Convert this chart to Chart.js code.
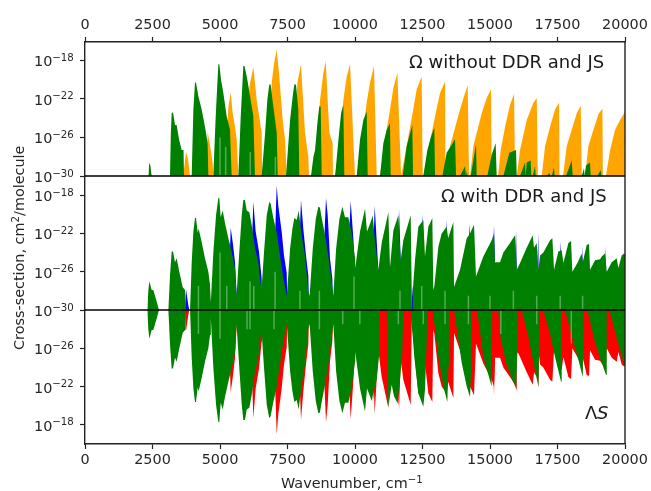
<!DOCTYPE html>
<html>
<head>
<meta charset="utf-8">
<title>Cross-section</title>
<script src="https://cdn.jsdelivr.net/npm/chart.js@4/dist/chart.umd.min.js"></script>
<style>
    html, body { margin: 0; padding: 0; background: #fff; }
    canvas { display: block; filter: blur(0.4px); }
</style>
</head>
<body>
<canvas id="spectrum" width="651" height="491"></canvas>
<script>
// All points are [wavenumber, log10(cross-section)]

// Top panel
var orangeBands = [
    [3640,-30],[3741,-27.5],[3820,-28.3],[3890,-30],
    [4506,-30],[4543,-25.4],[4630,-26.8],[4730,-28.7],[4752,-30],
    [5185,-30],[5311,-22.8],[5396,-21.3],[5470,-23.5],[5556,-24.9],[5618,-26.2],[5679,-30],
    [5980,-30],[6089,-20.7],[6235,-18.7],[6358,-22.1],[6450,-23.8],[6543,-25.5],[6560,-30],
    [6800,-30],[6850,-25],[6916,-20.3],[7003,-18.3],[7100,-16.9],[7197,-19.7],[7322,-24.2],[7408,-26.2],[7470,-30],
    [7750,-30],[7800,-24],[7867,-20.3],[8000,-18.4],[8061,-21.4],[8148,-25.5],[8271,-28],[8296,-30],
    [8398,-30],[8559,-26.6],[8707,-22.1],[8830,-19.3],[8917,-18.1],[9048,-25.5],[9172,-26.6],[9185,-30],
    [9263,-30],[9423,-26.6],[9571,-22.1],[9695,-19.65],[9818,-18.4],[9938,-26.2],[10000,-30],
    [10063,-30],[10247,-26.6],[10432,-22.4],[10556,-20.3],[10704,-18.6],[10804,-30],
    [10927,-30],[11112,-26.25],[11297,-23.1],[11420,-20.9],[11569,-19.3],[11707,-30],
    [11730,-30],[11914,-26.9],[12100,-24],[12285,-21],[12470,-19.7],[12507,-30],
    [12530,-30],[12717,-27.3],[12964,-23.8],[13150,-21.4],[13335,-20.2],[13350,-30],
    [13395,-30],[13520,-26.9],[13890,-23.1],[14076,-21.4],[14175,-20.6],[14223,-30],
    [14260,-30],[14385,-26.9],[14693,-23.5],[14879,-21.9],[15039,-21],[15062,-30],
    [15298,-30],[15397,-27.3],[15558,-24.9],[15743,-22.6],[15891,-21.5],[15930,-30],
    [15990,-30],[16113,-27.3],[16361,-24.2],[16608,-22.4],[16731,-21.9],[16770,-30],
    [16916,-30],[17040,-26.9],[17225,-24.9],[17410,-23.1],[17558,-22.4],[17575,-30],
    [17704,-30],[17843,-26.9],[18028,-25.2],[18213,-23.5],[18361,-22.7],[18400,-30],
    [18520,-30],[18645,-26.9],[18831,-25.2],[19016,-23.6],[19164,-23],[19180,-30],
    [19293,-30],[19448,-27.3],[19633,-25.2],[19819,-24.2],[19967,-23.5],[20000,-23.4]
];
var topGreenBands = [
    [2345,-30],[2382,-28.6],[2420,-28.9],[2470,-30],
    [3148,-30],[3180,-25.5],[3210,-23.5],[3260,-23.4],[3333,-24.7],[3395,-24.7],[3482,-26.2],[3580,-27.3],[3650,-27.3],[3667,-30],
    [3951,-30],[4014,-23.1],[4074,-20.3],[4111,-20.3],[4197,-21.7],[4321,-23.1],[4444,-24.9],[4543,-26.6],[4568,-30],
    [4752,-30],[4841,-23.8],[4938,-18.4],[4975,-18.4],[5037,-20],[5124,-21.4],[5247,-23.8],[5370,-25.2],[5432,-30],
    [5679,-30],[5768,-23.8],[5864,-18.6],[5910,-18.6],[6012,-20],[6111,-21.7],[6235,-23.8],[6296,-30],
    [6543,-30],[6669,-25.6],[6756,-22],[6826,-20.5],[6875,-20.5],[6975,-22.8],[7100,-25.5],[7137,-30],
    [7445,-30],[7595,-24.2],[7694,-21.7],[7752,-20.5],[7815,-20.5],[7900,-23.1],[7937,-30],
    [8370,-30],[8460,-28],[8522,-27.3],[8608,-24.5],[8678,-22.8],[8730,-22.8],[8767,-30],
    [9263,-30],[9386,-26.25],[9485,-23.5],[9568,-22.6],[9605,-30],
    [10063,-30],[10185,-26.25],[10309,-24.2],[10433,-23.3],[10470,-30],
    [10927,-30],[11050,-26.6],[11174,-25.2],[11297,-24.5],[11322,-30],
    [11767,-30],[11914,-26.9],[12038,-25.6],[12123,-24.7],[12150,-30],
    [12530,-30],[12680,-27.3],[12816,-25.9],[12938,-25],[12964,-30],
    [13235,-30],[13395,-27.6],[13705,-26.2],[13742,-30],
    [13890,-30],[14075,-29],[14110,-30],[14138,-29.5],[14170,-30],
    [14285,-30],[14482,-26.7],[14508,-30],
    [14900,-30],[15062,-27.8],[15210,-26.6],[15247,-30],
    [15494,-30],[15716,-27.6],[15964,-27.3],[15990,-30],
    [16112,-30],[16297,-28.6],[16320,-30],[16360,-28.6],[16507,-28.4],[16532,-30],
    [16581,-30],[16667,-29],[16692,-30],
    [17100,-30],[17197,-29.7],[17240,-30],[17290,-30],[17370,-29.1],[17395,-30],
    [17815,-30],[18026,-28.4],[18063,-30],
    [18396,-30],[18481,-29.2],[18505,-30],[18556,-28.9],[18704,-28.6],[18730,-30],
    [18970,-30],[19100,-29.4],[19137,-30]
];

// Middle panel, the part up to 10600 is the same in the lower panel
var greenShared = [
    [2308,-30],[2345,-28],[2382,-27],[2470,-27.9],[2530,-27.9],[2655,-29.1],[2741,-30],
    [3088,-30],[3150,-26.35],[3210,-23.9],[3260,-23.9],[3333,-25],[3395,-24.6],[3493,-26],[3617,-27.6],[3704,-27.9],[3730,-30],
    [3891,-30],[3952,-25],[4014,-21.8],[4074,-20.4],[4111,-20.4],[4173,-21.9],[4210,-21.5],[4321,-22.9],[4444,-24.6],[4568,-26],[4630,-27.4],
    [4660,-29.2],[4755,-23.9],[4854,-20.1],[4938,-18.3],[4975,-18.3],[5025,-20.3],[5100,-19.6],[5185,-20.9],[5309,-22.5],[5432,-23.9],[5556,-25.6],
    [5612,-28.5],[5706,-24.3],[5805,-20.1],[5864,-18.5],[5925,-18.5],[5988,-19.6],[6087,-19.8],[6173,-21.1],[6296,-23.5],[6420,-25],[6481,-26.7],
    [6535,-28],[6632,-23.9],[6731,-20.1],[6826,-18.7],[6875,-18.9],[6975,-20.4],[7100,-21.9],[7222,-24.3],[7346,-26.7],
    [7475,-28.5],[7596,-23.6],[7682,-21.5],[7752,-20.4],[7840,-20.6],[7914,-19.6],[8025,-22.2],[8148,-24.3],[8271,-28.1],
    [8320,-28.5],[8435,-23.6],[8547,-20.5],[8642,-19.2],[8700,-19.3],[8767,-20.4],[8889,-22.2],[9011,-24.3],[9135,-27],
    [9197,-28.5],[9300,-23.6],[9423,-20.5],[9531,-19.2],[9630,-20.3],[9753,-20.3],[9877,-21.9],[10000,-24.6],[10010,-25.6],[10186,-21.8],[10371,-19.4],[10445,-21.8],[10556,-21],[10618,-20.5]
];
var greenMidLate = [
    [10655,-20.1],[10730,-22.5],[10864,-25.8],[10988,-23],[11235,-19.8],[11297,-25.5],[11420,-21.7],[11605,-20.1],[11693,-24.8],[11790,-22.7],
    [12063,-20.1],[12100,-28],[12112,-30],[12140,-28],[12223,-24.8],[12346,-21.3],[12530,-20.6],[12593,-24.4],[12716,-21.3],[12864,-20.4],
    [12901,-27.9],[12940,-27.5],[13087,-23.4],[13210,-22],[13395,-21.3],[13450,-22.5],[13643,-20.8],[13668,-27.6],[13890,-25.8],[14138,-22.5],
    [14260,-22],[14408,-21.1],[14482,-26.5],[14753,-24.4],[15062,-22.7],[15148,-22],[15185,-25],[15372,-25],[15495,-24],[15742,-23],[15928,-22.2],
    [15990,-25.8],[16113,-25.1],[16360,-23.5],[16582,-22.2],[16631,-23.5],[16730,-23],[16792,-25.8],[16854,-24.3],[16977,-24],[17224,-22.7],[17310,-22.5],
    [17372,-25.8],[17532,-23.9],[17656,-23.75],[17718,-25.1],[17903,-23],[18002,-22.8],[18051,-26],[18237,-25.1],[18397,-24.1],[18434,-25],[18582,-23.2],
    [18668,-23.1],[18705,-25.8],[18891,-24.8],[19076,-24.7],[19138,-24.4],[19261,-24.1],[19323,-26],[19508,-25],[19693,-24.6],[19755,-25.6],[19878,-24.3],[19964,-24.1],[20000,-24.2]
];
var blueBands = [
    [3704,-30],[3741,-27.8],[3827,-29.5],[3864,-30],
    [5300,-30],[5396,-21.4],[5470,-22.9],[5556,-25],[5618,-28.4],[5630,-30],
    [6100,-30],[6235,-18.7],[6321,-21.8],[6444,-23.9],[6543,-26.7],[6555,-30],
    [6950,-30],[7100,-17],[7160,-19.1],[7284,-21.8],[7370,-24.3],[7470,-26.1],[7500,-30],
    [7850,-30],[8000,-18.5],[8086,-21.5],[8185,-24.3],[8271,-26.4],[8300,-30],
    [8750,-30],[8926,-18.3],[8989,-20.1],[9074,-24.6],[9160,-26.7],[9197,-30],
    [9650,-30],[9840,-18.6],[9938,-22.5],[10000,-25.6],[10062,-27],[10080,-30],
    [10600,-30],[10730,-19.1],[10864,-25.8],[10880,-30],
    [11520,-30],[11631,-19.5],[11693,-24.8],[11705,-30],
    [12086,-30],[12138,-27.4],[12160,-30],
    [12400,-30],[12507,-20],[12556,-23.8],[12570,-30],
    [13300,-30],[13395,-20.5],[13420,-23.4],[13430,-30],
    [14150,-30],[14235,-21],[14260,-22.4],[14270,-30],
    [15060,-30],[15148,-21.1],[15185,-25],[15195,-30],
    [15880,-30],[15965,-21.7],[15990,-25.8],[16000,-30],
    [16700,-30],[16792,-22],[16805,-30],
    [17540,-30],[17620,-22.8],[17644,-25.1],[17655,-30],
    [18350,-30],[18434,-23.2],[18450,-30],
    [19200,-30],[19298,-23.2],[19310,-30]
];

// Lower panel, after the shared part
var greenLowLate = [
    [10704,-21.7],[10804,-22.7],[10901,-25.5],[10927,-30],
    [11173,-30],[11235,-19.8],[11358,-22.2],[11445,-21],[11568,-20.3],[11667,-22.7],[11753,-25.5],[11790,-30],
    [12060,-30],[12197,-25.1],[12346,-21.3],[12530,-19.9],[12593,-21.7],[12655,-26.6],[12680,-30],
    [12880,-30],[13087,-25.1],[13272,-22],[13420,-20.4],[13460,-24.1],[13480,-30],
    [13668,-30],[13952,-24.5],[14138,-22],[14260,-20.9],[14322,-25],[14335,-30],
    [14520,-30],[14753,-25.1],[15062,-22],[15085,-30],
    [15300,-30],[15400,-26.9],[15618,-24.3],[15803,-22.9],[15964,-21.8],[16013,-25.5],[16030,-30],
    [16174,-30],[16421,-27.2],[16606,-24.5],[16792,-22],[16853,-30],
    [16977,-30],[17224,-27.5],[17409,-25.1],[17631,-22.5],[17655,-30],
    [17780,-30],[18026,-27.3],[18273,-24.8],[18434,-23],[18483,-30],
    [18606,-30],[18890,-26.6],[19138,-24.5],[19298,-23.2],[19323,-30],
    [19422,-30],[19700,-27],[19964,-24.3],[20000,-24.3]
];

// Pale gaps near the baseline: [wavenumber, log10 low, log10 high]
var topStreaks = [[5000,-30,-26],[5210,-30,-27],[6120,-30,-27.5],[7050,-30,-28]];
var midStreaks = [
    [4200,-30,-27.5],[5000,-30,-24],[5250,-30,-27.5],[6113,-30,-27],[6250,-30,-27.5],[7040,-30,-26],[7960,-30,-28],
    [8680,-30,-28],[9963,-30,-26.5],[11667,-30,-28],[12470,-30,-27.5],[13335,-30,-28],[14200,-30,-28.5],[15000,-30,-28.5],
    [15866,-30,-28],[16730,-30,-28.5],[17600,-30,-28.5],[18430,-30,-28.5]
];
var lowStreaks = [
    [4200,-30,-27.5],[5000,-30,-27],[6000,-30,-28],[6111,-30,-28],[7000,-30,-28],[8680,-30,-28],[9545,-30,-28.5],
    [10180,-30,-28.5],[11605,-30,-28.5],[12530,-30,-28.5],[13335,-30,-28.5],[14200,-30,-28.5],[15400,-30,-27.5],[16730,-30,-28.5],[18010,-30,-26.5]
];

// Tick values
var xTicks = [0, 2500, 5000, 7500, 10000, 12500, 15000, 17500, 20000];
var panelTickExp = [-18, -22, -26, -30];
var lowTickExp = [-18, -22, -26];

var fontName = "'DejaVu Sans'";
var inkColor = "#262626";
var spineColor = "#222222";

function toPoints(list) {
    return list.map(function (p) {
        return { x: p[0], y: Math.pow(10, p[1]) };
    });
}

function band(list, color, yAxis) {
    return {
        data: toPoints(list),
        xAxisID: "x",
        yAxisID: yAxis,
        backgroundColor: color,
        borderWidth: 0,
        pointRadius: 0,
        tension: 0,
        fill: { value: 1e-30 }
    };
}

function streaks(list, yAxis) {
    var pts = [];
    list.forEach(function (s) {
        pts.push({ x: s[0], y: Math.pow(10, s[1]) });
        pts.push({ x: s[0], y: Math.pow(10, s[2]) });
        pts.push({ x: s[0], y: null });
    });
    return {
        data: pts,
        xAxisID: "x",
        yAxisID: yAxis,
        borderColor: "rgba(255,255,255,0.33)",
        borderWidth: 1.5,
        pointRadius: 0,
        spanGaps: false,
        fill: false
    };
}

function yScale(exps, maxExp, reverse) {
    return {
        type: "logarithmic",
        position: "left",
        stack: "panels",
        stackWeight: 1,
        reverse: reverse,
        min: 1e-30,
        max: Math.pow(10, maxExp),
        afterBuildTicks: function (axis) {
            axis.ticks = exps.map(function (e) { return { value: Math.pow(10, e) }; });
        },
        afterFit: function (axis) { axis.width = 85; },
        ticks: { display: false },
        grid: { drawOnChartArea: false, color: spineColor, tickLength: 5, tickWidth: 1.2 },
        border: { display: true, color: spineColor, width: 1.4 }
    };
}

function xScale(position, boxHeight) {
    return {
        type: "linear",
        position: position,
        min: 0,
        max: 20000,
        afterBuildTicks: function (axis) {
            axis.ticks = xTicks.map(function (v) { return { value: v }; });
        },
        afterFit: function (axis) { axis.height = boxHeight; },
        ticks: {
            color: inkColor,
            maxRotation: 0,
            autoSkip: false,
            padding: 3,
            font: { family: fontName, size: 14.4 },
            callback: function (value) { return String(value); }
        },
        grid: { drawOnChartArea: false, color: spineColor, tickLength: 5, tickWidth: 1.2 },
        border: { display: true, color: spineColor, width: 1.4 }
    };
}

// text with a raised exponent
function supText(ctx, base, exp, tail, x, y) {
    ctx.font = "14.4px " + fontName;
    ctx.fillText(base, x, y);
    x += ctx.measureText(base).width;
    ctx.font = "10.2px " + fontName;
    ctx.fillText(exp, x, y - 5.5);
    x += ctx.measureText(exp).width;
    ctx.font = "14.4px " + fontName;
    ctx.fillText(tail, x, y);
}

// Frame lines, power tick labels and the texts sitting inside the panels
var panelDecor = {
    id: "panelDecor",
    afterDraw: function (chart) {
        var ctx = chart.ctx;
        var area = chart.chartArea;
        var s = chart.scales;
        ctx.save();

        ctx.strokeStyle = spineColor;
        ctx.lineWidth = 1.4;
        ctx.beginPath();
        ctx.moveTo(area.right, area.top);
        ctx.lineTo(area.right, area.bottom);
        ctx.stroke();

        ctx.strokeStyle = "#000";
        [s.yTop.getPixelForValue(1e-30), s.yMid.getPixelForValue(1e-30)].forEach(function (y) {
            ctx.beginPath();
            ctx.moveTo(area.left, y);
            ctx.lineTo(area.right, y);
            ctx.stroke();
        });

        ctx.fillStyle = inkColor;
        ctx.textBaseline = "alphabetic";
        [s.yTop, s.yMid, s.yLow].forEach(function (axis) {
            axis.ticks.forEach(function (t) {
                var exp = "\u2212" + Math.abs(Math.round(Math.log10(t.value)));
                supText(ctx, "10", exp, "", 34, axis.getPixelForValue(t.value) + 6);
            });
        });

        supText(ctx, "Wavenumber, cm", "\u22121", "", 281, 488);

        ctx.fillStyle = "#1a1a1a";
        ctx.font = "18px " + fontName;
        ctx.fillText("\u03A9 without DDR and JS", 409, 68);
        ctx.fillText("\u03A9 with DDR and JS", 441, 202);
        ctx.fillText("\u039B", 585, 419);
        ctx.font = "italic 18px " + fontName;
        ctx.fillText("S", 597, 419);

        ctx.fillStyle = inkColor;
        ctx.translate(24, 350);
        ctx.rotate(-Math.PI / 2);
        supText(ctx, "Cross-section, cm", "2", "/molecule", 0, 0);
        ctx.restore();
    }
};

new Chart(document.getElementById("spectrum").getContext("2d"), {
    type: "line",
    data: {
        datasets: [
            streaks(topStreaks, "yTop"),
            streaks(midStreaks, "yMid"),
            streaks(lowStreaks, "yLow"),
            band(topGreenBands, "#008000", "yTop"),
            band(orangeBands, "#ffa500", "yTop"),
            band(greenShared.concat(greenMidLate), "#008000", "yMid"),
            band(blueBands, "#0000ff", "yMid"),
            band(greenShared.concat(greenLowLate), "#008000", "yLow"),
            band(blueBands, "#ff0000", "yLow"),
            band(greenMidLate, "#ff0000", "yLow")
        ]
    },
    options: {
        responsive: false,
        animation: false,
        layout: { padding: { top: 0, right: 26, bottom: 0, left: 0 } },
        plugins: { legend: { display: false }, tooltip: { enabled: false } },
        scales: {
            x: xScale("bottom", 47),
            xTop: xScale("top", 42),
            yLow: yScale(lowTickExp, -16, true),
            yMid: yScale(panelTickExp, -16, false),
            yTop: yScale(panelTickExp, -16.1, false)
        }
    },
    plugins: [panelDecor]
});
</script>
</body>
</html>
